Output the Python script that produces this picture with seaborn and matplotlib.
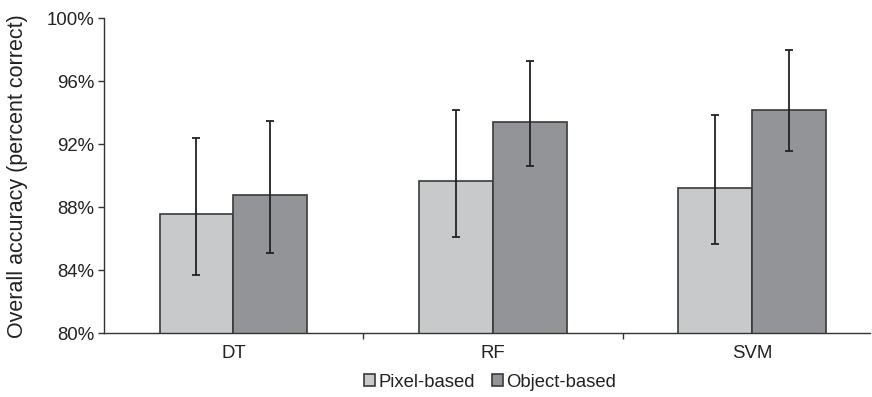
import numpy as np
import pandas as pd
import matplotlib.pyplot as plt
import matplotlib.ticker as mtick
import seaborn as sns

# values (percent correct)
classifiers = ["DT", "RF", "SVM"]
methods = ["Pixel-based", "Object-based"]
pixel_acc = [87.6, 89.7, 89.25]
pixel_lo = [83.7, 86.1, 85.65]
pixel_hi = [92.4, 94.2, 93.85]
object_acc = [88.8, 93.4, 94.2]
object_lo = [85.1, 90.6, 91.6]
object_hi = [93.5, 97.3, 98.0]

df = pd.DataFrame({
    "classifier": classifiers * 2,
    "method": [methods[0]] * 3 + [methods[1]] * 3,
    "acc": pixel_acc + object_acc,
    "lo": pixel_lo + object_lo,
    "hi": pixel_hi + object_hi,
})

sns.set_style("white")
plt.rcParams['font.family'] = ['Liberation Sans', 'DejaVu Sans']

fig = plt.figure(figsize=(8.72, 3.97), dpi=100)
ax = fig.add_axes([0.119, 0.160, 0.879, 0.794])

pal = {"Pixel-based": "#c8c9cb", "Object-based": "#939498"}
sns.barplot(data=df, x="classifier", y="acc", hue="method", order=classifiers,
            hue_order=methods, palette=pal, width=0.57, errorbar=None,
            edgecolor="#3a3a3a", linewidth=1.2, saturation=1, ax=ax)

# error bars at the centre of every bar
for cont, m in zip(ax.containers, methods):
    sub = df[df.method == m].set_index("classifier").loc[classifiers]
    xs = [p.get_x() + p.get_width() / 2 for p in cont.patches]
    ax.errorbar(xs, sub.acc, yerr=[sub.acc - sub.lo, sub.hi - sub.acc],
                fmt="none", ecolor="#222222", elinewidth=1.3, capsize=2.6,
                capthick=1.3)

ax.set_ylim(80, 100)
ax.set_xlim(-0.5, 2.455)
ax.set_yticks(np.arange(80, 101, 4))
ax.yaxis.set_major_formatter(mtick.FuncFormatter(lambda v, p: f"{v:.0f}%"))
ax.set_xticks([0.5, 1.5], minor=True)
ax.tick_params(axis="x", which="major", length=0, pad=8, labelsize=13.4, colors="#222222")
ax.tick_params(axis="x", which="minor", bottom=True, length=4, width=1, color="#333333")
ax.tick_params(axis="y", left=True, length=4, width=1, pad=3, labelsize=13.4,
               color="#333333", labelcolor="#222222")

for s in ["top", "right"]:
    ax.spines[s].set_visible(False)
for s in ["left", "bottom"]:
    ax.spines[s].set_color("#333333")
    ax.spines[s].set_linewidth(1)

ax.set_xlabel("")
ax.set_ylabel("Overall accuracy (percent correct)", fontsize=15.5, color="#222222")
ax.yaxis.set_label_coords(-0.099, 0.5)

handles, labels = ax.get_legend_handles_labels()
ax.legend_.remove()
fig.legend(handles, labels, loc="center", bbox_to_anchor=(0.562, 0.037), ncol=2,
           frameon=False, fontsize=13.3, handlelength=0.6, handleheight=0.6,
           handletextpad=0.2, columnspacing=0.9, labelcolor="#222222")

fig.savefig("out.png", dpi=100)
